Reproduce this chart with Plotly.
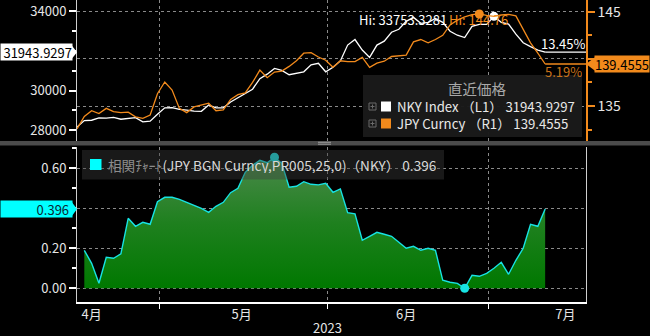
import plotly.graph_objects as go
import pandas as pd

# ---------------- data ----------------
dates = [d.strftime("%Y-%m-%d") for d in pd.bdate_range("2023-04-13", "2023-07-12")]

nky = [28157, 28480, 28500, 28620, 28610, 28640, 28550, 28600, 28630, 28420,
       28450, 28800, 29130, 29140, 29050, 29010, 28960, 28950, 29270, 29130,
       29130, 29420, 29630, 29850, 30070, 30600, 30830, 31120, 31020, 30800,
       30870, 30950, 31300, 31380, 30950, 31180, 31500, 32300, 32580, 32050,
       31680, 32300, 32500, 32950, 33100, 33500, 33700, 33400, 33450, 33650,
       33450, 33000, 32800, 32680, 33250, 33350, 33350, 33753.3281, 33450, 33360,
       32850, 32420, 32220, 32050, 31943.9297]

jpy = [132.58, 133.9, 134.5, 134.2, 134.75, 134.4, 134.3, 134.35, 133.85, 133.7,
       134.05, 136.3, 137.55, 136.7, 134.75, 134.3, 134.9, 135.1, 135.3, 134.5,
       134.6, 135.7, 136.2, 136.4, 137.5, 138.8, 138.0, 138.6, 138.7, 139.2,
       139.8, 140.6, 140.65, 140.2, 139.85, 139.1, 139.8, 139.7, 139.7, 140.15,
       139.1, 139.55, 139.75, 140.25, 140.3, 140.4, 141.8, 142.05, 141.7, 142.05,
       142.5, 143.6, 144.1, 144.45, 144.7, 144.76, 144.6, 144.5, 144.65, 144.72,
       144.55, 143.1, 141.7, 140.6, 139.4555]

corr_dates = dates[1:]
corr = [0.19, 0.125, 0.025, 0.155, 0.15, 0.172, 0.35, 0.31, 0.33, 0.32,
        0.433, 0.455, 0.455, 0.445, 0.43, 0.415, 0.40, 0.38, 0.41, 0.43,
        0.478, 0.50, 0.58, 0.615, 0.64, 0.628, 0.655, 0.625, 0.505, 0.51,
        0.533, 0.52, 0.517, 0.525, 0.48, 0.497, 0.378, 0.372, 0.24, 0.26,
        0.28, 0.27, 0.26, 0.23, 0.20, 0.21, 0.19, 0.20, 0.19, 0.04,
        0.03, 0.025, 0.0, 0.065, 0.06, 0.075, 0.10, 0.13, 0.07, 0.14,
        0.20, 0.32, 0.31, 0.396]

left_ticks = [28000, 30000, 32000, 34000]
left_ticktext = ["28000", "30000", "", "34000"]      # 32000 is covered by the last-value tag
right_ticks = [135, 140, 145]
right_ticktext = ["135", "", "145"]                  # 140 is covered by the last-value tag
corr_ticks = [0, 0.2, 0.4, 0.6]
corr_ticktext = ["0.00", "0.20", "", "0.60"]         # 0.40 is covered by the last-value tag

month_label_dates = ["2023-04-17", "2023-05-15 12:00", "2023-06-15", "2023-07-14 18:00"]
month_labels = ["4月", "5月", "6月", "7月"]
month_bounds = ["2023-04-28 06:00", "2023-05-31 06:00", "2023-06-30 06:00"]
year_label = "2023"
x_range = ["2023-04-13", "2023-07-19 14:00"]

corr_label = "0.396"
nky_name = "NKY Index"
jpy_name = "JPY Curncy"

# ---------------- styling ----------------
W, H = 650, 336
FONT = "Noto Sans CJK JP"
ORANGE = "#f28a1c"
CYAN = "#17e3e3"
GRID = "#8a8a8a"


def px(x):
    return x / W


def py(y):
    return 1 - y / H


top_dom = [py(141), 1.0]
bot_dom = [py(302), py(147)]
x_dom = [px(77), px(586)]
rb = [dict(bounds=["sat", "mon"])]

fig = go.Figure()

# top panel lines
fig.add_trace(go.Scatter(x=dates, y=nky, mode="lines", line=dict(color="white", width=1.3),
                         xaxis="x", yaxis="y", hoverinfo="skip"))
fig.add_trace(go.Scatter(x=dates, y=jpy, mode="lines", line=dict(color=ORANGE, width=1.3),
                         xaxis="x", yaxis="y2", hoverinfo="skip"))
# last value extension lines
fig.add_trace(go.Scatter(x=[dates[-1], x_range[1]], y=[nky[-1], nky[-1]], mode="lines",
                         line=dict(color="white", width=1.3), xaxis="x", yaxis="y", hoverinfo="skip"))
fig.add_trace(go.Scatter(x=[dates[-1], x_range[1]], y=[jpy[-1], jpy[-1]], mode="lines",
                         line=dict(color=ORANGE, width=1.3), xaxis="x", yaxis="y2", hoverinfo="skip"))
# highs
i_nky = nky.index(max(nky))
i_jpy = jpy.index(max(jpy))
fig.add_trace(go.Scatter(x=[dates[i_nky]], y=[nky[i_nky]], mode="markers",
                         marker=dict(color="white", size=9), xaxis="x", yaxis="y", hoverinfo="skip"))
fig.add_trace(go.Scatter(x=[dates[i_jpy]], y=[jpy[i_jpy]], mode="markers",
                         marker=dict(color=ORANGE, size=9), xaxis="x", yaxis="y2", hoverinfo="skip"))

# correlation area
fig.add_trace(go.Scatter(x=corr_dates, y=corr, mode="lines", line=dict(color=CYAN, width=1.4),
                         fill="tozeroy",
                         fillgradient=dict(type="vertical", start=0, stop=0.66,
                                           colorscale=[[0, "#007800"], [0.5, "#1f801f"], [1, "#4d8a4d"]]),
                         xaxis="x2", yaxis="y3", hoverinfo="skip"))
i_cmax = corr.index(max(corr))
i_cmin = corr.index(min(corr))
fig.add_trace(go.Scatter(x=[corr_dates[i_cmax], corr_dates[i_cmin]], y=[corr[i_cmax], corr[i_cmin]],
                         mode="markers", marker=dict(color=CYAN, size=9),
                         xaxis="x2", yaxis="y3", hoverinfo="skip"))

axis_font = dict(family=FONT, size=13, color="#e6e6e6")

fig.update_layout(
    width=W, height=H,
    margin=dict(l=0, r=0, t=0, b=0),
    paper_bgcolor="black", plot_bgcolor="black",
    showlegend=False,
    font=dict(family=FONT, color="#e6e6e6"),
    xaxis=dict(domain=x_dom, range=x_range, anchor="y", rangebreaks=rb,
               showticklabels=False, ticks="", showgrid=False, zeroline=False, showline=False,
               minor=dict(tickmode="array", tickvals=month_bounds, showgrid=True, gridcolor=GRID,
                          griddash="3px,3px", gridwidth=1, ticks="")),
    yaxis=dict(domain=top_dom, range=[27450, 34580], anchor="x",
               tickmode="array", tickvals=left_ticks, ticktext=left_ticktext,
               ticks="outside", ticklen=7, tickwidth=2, tickcolor="white",
               showline=True, linecolor="#cfcfcf", linewidth=1, showgrid=False, zeroline=False,
               tickfont=axis_font,
               minor=dict(dtick=1000, ticks="outside", ticklen=4, tickcolor="white", showgrid=False)),
    yaxis2=dict(overlaying="y", side="right", anchor="x", range=[131.29, 146.24],
                tickmode="array", tickvals=right_ticks, ticktext=right_ticktext,
                ticks="outside", ticklen=7, tickwidth=2, tickcolor=ORANGE,
                showline=True, linecolor=ORANGE, linewidth=1.5,
                showgrid=True, gridcolor=GRID, griddash="3px,3px", gridwidth=1, zeroline=False,
                tickfont=dict(family=FONT, size=14, color="#e6e6e6"),
                minor=dict(dtick=2.5, tick0=130, ticks="outside", ticklen=4, tickcolor=ORANGE, showgrid=False)),
    xaxis2=dict(domain=x_dom, range=x_range, anchor="y3", rangebreaks=rb,
                tickmode="array", tickvals=month_label_dates, ticktext=month_labels, ticks="",
                tickfont=axis_font, showgrid=False, zeroline=False,
                showline=True, linecolor="white", linewidth=1.5,
                minor=dict(tickmode="array", tickvals=month_bounds, showgrid=True, gridcolor=GRID,
                           griddash="3px,3px", gridwidth=1, ticks="outside", ticklen=5, tickcolor="white")),
    yaxis3=dict(domain=bot_dom, range=[-0.0685, 0.7065], anchor="x2",
                tickmode="array", tickvals=corr_ticks, ticktext=corr_ticktext,
                ticks="outside", ticklen=7, tickwidth=2, tickcolor="white",
                showline=True, linecolor="#cfcfcf", linewidth=1, mirror=True,
                showgrid=True, gridcolor=GRID, griddash="3px,3px", gridwidth=1, zeroline=False,
                tickfont=axis_font,
                minor=dict(dtick=0.1, tick0=0, ticks="outside", ticklen=4, tickcolor="white", showgrid=False)),
)

shapes = []
# divider bar
shapes.append(dict(type="rect", xref="paper", yref="paper", x0=0, x1=1, y0=py(145.5), y1=py(141),
                   fillcolor="#4b4b4b", line=dict(width=0), layer="above"))
for yy in (142.3, 144.2):
    shapes.append(dict(type="line", xref="paper", yref="paper", x0=px(318), x1=px(331), y0=py(yy), y1=py(yy),
                       line=dict(color="#9a9a9a", width=1), layer="above"))
# top legend box
shapes.append(dict(type="rect", xref="paper", yref="paper", x0=px(363), x1=px(582), y0=py(137), y1=py(75),
                   fillcolor="rgba(26,26,26,0.97)", line=dict(width=0), layer="above"))
shapes.append(dict(type="rect", xref="paper", yref="paper", x0=px(381), x1=px(391), y0=py(111.5), y1=py(101.5),
                   fillcolor="white", line=dict(width=0), layer="above"))
shapes.append(dict(type="rect", xref="paper", yref="paper", x0=px(381), x1=px(391), y0=py(128.5), y1=py(118.5),
                   fillcolor=ORANGE, line=dict(width=0), layer="above"))
for yc in (106.5, 123.5):
    shapes.append(dict(type="rect", xref="paper", yref="paper", x0=px(369), x1=px(376), y0=py(yc + 3.5), y1=py(yc - 3.5),
                       fillcolor="rgba(0,0,0,0)", line=dict(color="#6a6a6a", width=1), layer="above"))
    shapes.append(dict(type="line", xref="paper", yref="paper", x0=px(370.5), x1=px(374.5), y0=py(yc), y1=py(yc),
                       line=dict(color="#6a6a6a", width=1), layer="above"))
    shapes.append(dict(type="line", xref="paper", yref="paper", x0=px(372.5), x1=px(372.5), y0=py(yc + 2), y1=py(yc - 2),
                       line=dict(color="#6a6a6a", width=1), layer="above"))
# bottom legend box
shapes.append(dict(type="rect", xref="paper", yref="paper", x0=px(82), x1=px(444), y0=py(179.5), y1=py(150),
                   fillcolor="rgba(60,60,60,0.42)", line=dict(width=0), layer="above"))
shapes.append(dict(type="rect", xref="paper", yref="paper", x0=px(90), x1=px(101.5), y0=py(170), y1=py(159),
                   fillcolor="#00ffff", line=dict(width=0), layer="above"))

# tag arrow tips
nky_last = nky[-1]
shapes.append(dict(type="path", xref="paper", yref="y",
                   path=f"M {px(71)},{nky_last + 390} L {px(77)},{nky_last} L {px(71)},{nky_last - 390} Z",
                   fillcolor="white", line=dict(width=0), layer="above"))
jpy_last = jpy[-1]
shapes.append(dict(type="path", xref="paper", yref="y2",
                   path=f"M {px(596)},{jpy_last + 0.8} L {px(586)},{jpy_last} L {px(596)},{jpy_last - 0.8} Z",
                   fillcolor=ORANGE, line=dict(width=0), layer="above"))
c_last = corr[-1]
shapes.append(dict(type="path", xref="paper", yref="y3",
                   path=f"M {px(71)},{c_last + 0.041} L {px(77)},{c_last} L {px(71)},{c_last - 0.041} Z",
                   fillcolor="#00ffff", line=dict(width=0), layer="above"))
fig.update_layout(shapes=shapes)

ann = []
# value tags
ann.append(dict(xref="paper", yref="y", x=0, y=nky_last, xanchor="left", yanchor="middle",
                text=f"{nky_last:.4f}", showarrow=False, bgcolor="white", width=71, height=16,
                align="right", borderpad=0, font=dict(family=FONT, size=13, color="black")))
ann.append(dict(xref="paper", yref="y2", x=1, y=jpy_last, xanchor="right", yanchor="middle",
                text=f"{jpy_last:.4f}", showarrow=False, bgcolor=ORANGE, width=54, height=16,
                align="center", borderpad=0, font=dict(family=FONT, size=13, color="black")))
ann.append(dict(xref="paper", yref="y3", x=0, y=c_last, xanchor="left", yanchor="middle",
                text=corr_label + " ", showarrow=False, bgcolor="#00ffff", width=71, height=16,
                align="right", borderpad=0, font=dict(family=FONT, size=13, color="#0a2a35")))
# highs
ann.append(dict(xref="paper", yref="paper", x=px(357), y=py(19), xanchor="left", yanchor="middle",
                text=f"Hi: {nky[i_nky]:.4f}", showarrow=False, height=15,
                font=dict(family=FONT, size=13, color="white")))
ann.append(dict(xref="paper", yref="paper", x=px(447), y=py(19), xanchor="left", yanchor="middle",
                text=f"Hi: {jpy[i_jpy]:.2f}", showarrow=False, height=15,
                font=dict(family=FONT, size=13, color=ORANGE)))
# percent changes
ann.append(dict(xref="paper", yref="paper", x=px(587), y=py(43), xanchor="right", yanchor="middle",
                text=f"{(nky[-1] / nky[0] - 1) * 100:.2f}%", showarrow=False, height=15,
                font=dict(family=FONT, size=13, color="white")))
ann.append(dict(xref="paper", yref="paper", x=px(584), y=py(71), xanchor="right", yanchor="middle",
                text=f"{(jpy[-1] / jpy[0] - 1) * 100:.2f}%", showarrow=False, height=14,
                font=dict(family=FONT, size=13, color="#c8721a")))
# top legend
ann.append(dict(xref="paper", yref="paper", x=px(477), y=py(88.5), xanchor="center", yanchor="middle",
                text="直近価格", showarrow=False, height=15,
                font=dict(family=FONT, size=14.5, color="#a8a8a8")))
ann.append(dict(xref="paper", yref="paper", x=px(395), y=py(115), xanchor="left", yanchor="middle",
                text=f"{nky_name} （L1） {nky_last:.4f}<br>{jpy_name} （R1） {jpy_last:.4f}",
                showarrow=False, align="left",
                font=dict(family=FONT, size=13.2, color="#e8e8e8")))
# bottom legend
ann.append(dict(xref="paper", yref="paper", x=px(106), y=py(165), xanchor="left", yanchor="middle",
                text=f"<span style='color:#8c8c8c'>相関ﾁｬｰﾄ</span>(JPY BGN Curncy,PR005,25,0)（NKY） {corr_label}",
                showarrow=False, height=16, font=dict(family=FONT, size=13.6, color="#d8d8d8")))
# year label
ann.append(dict(xref="x2", yref="paper", x=month_bounds[1], y=py(327), xanchor="center", yanchor="middle",
                text=year_label, showarrow=False, font=dict(family=FONT, size=13, color="#e6e6e6")))
fig.update_layout(annotations=ann)

fig.write_html("out.html")
